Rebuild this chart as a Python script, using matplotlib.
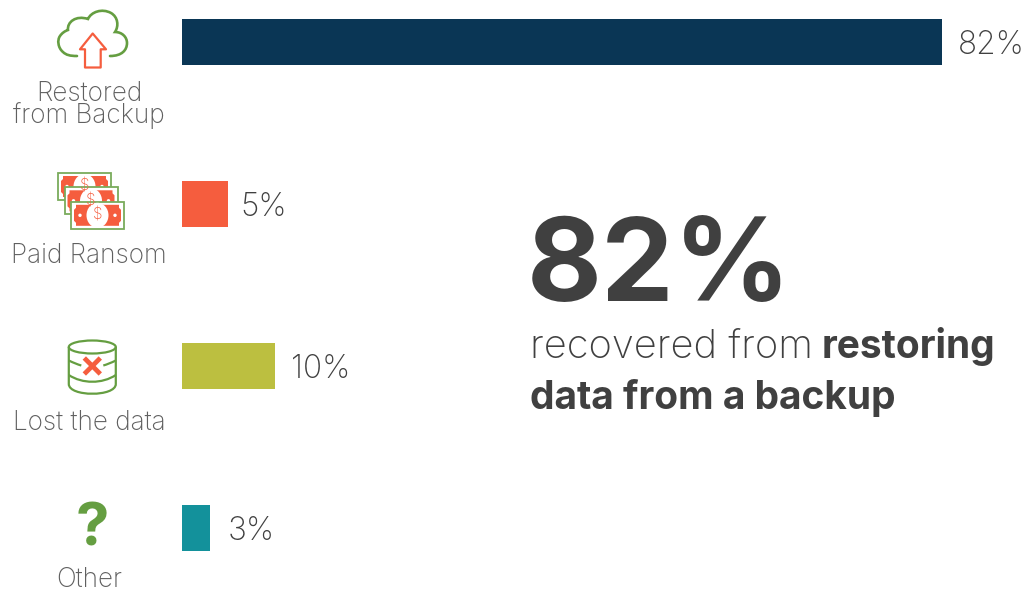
import matplotlib
matplotlib.use('Agg')
import matplotlib.pyplot as plt
from matplotlib.patches import Rectangle, Circle, Ellipse, Polygon, PathPatch
from matplotlib.path import Path

# survey results
categories = ['Restored\nfrom Backup', 'Paid Ransom', 'Lost the data', 'Other']
values = [82, 5, 10, 3]
value_labels = ['82%', '5%', '10%', '3%']
bar_colors = ['#0A3655', '#F55D3E', '#BCBF40', '#13919B']
headline = '82%'
caption_light = 'recovered from'
caption_bold_1 = 'restoring'
caption_bold_2 = 'data from a backup'

GREEN = '#659E41'
ORANGE = '#F55D3E'
DARK = '#404040'
GREY = '#606060'
FONT = 'Inter'

W, H = 1025, 593
fig = plt.figure(figsize=(W / 100, H / 100), dpi=100, facecolor='white')

# bars get their own axes, 82 units wide
ax = fig.add_axes([182 / W, 0, 760 / W, 1])
ax.set_xlim(0, 82)
ax.set_ylim((593 - 42) / 162, -42 / 162)
ax.barh(range(4), values, height=46 / 162, color=bar_colors)
ax.axis('off')
offsets = [16, 12, 16, 18]
for i, (v, lab) in enumerate(zip(values, value_labels)):
    ax.annotate(lab, (v, i), xytext=(offsets[i], -4), textcoords='offset pixels', va='center',
                fontsize=22.8, color=DARK, family=FONT, fontweight='light')

# everything else is laid out in pixels
px = fig.add_axes([0, 0, 1, 1], zorder=2)
px.set_xlim(0, W)
px.set_ylim(H, 0)
px.axis('off')
px.patch.set_alpha(0)

# category names, the two-line one stays a single text
label_y = [123, 263, 430, 587]
for cat, y in zip(categories, label_y):
    px.text(89, y, cat, ha='center', va='baseline', multialignment='center', linespacing=0.78,
            fontsize=18.8, color=GREY, family=FONT, fontweight='light')

# cloud icon
M, C, L = Path.MOVETO, Path.CURVE4, Path.LINETO
cloud = [(77, 56), (70, 56), (66, 55), (63, 52),
         (58, 48), (57, 40), (60, 36),
         (62, 33), (65, 31), (68, 30),
         (67, 22), (76, 15), (88, 19),
         (91, 12), (102, 8), (111, 13),
         (118, 17), (119, 26), (115, 32),
         (122, 32), (127, 37), (127, 43),
         (127, 50), (122, 56), (110, 56)]
codes = [M] + [C] * 24
px.add_patch(PathPatch(Path(cloud, codes), fill=False, ec=GREEN, lw=1.9, capstyle='round'))
arrow = [(92.7, 33.5), (106, 49.3), (100.7, 49.3), (100.7, 67.5), (85, 67.5), (85, 49.3), (80, 49.3)]
px.add_patch(Polygon(arrow, closed=True, fill=False, ec=ORANGE, lw=1.6, joinstyle='round'))


# banknote icon, one note per call
def note(x, y):
    px.add_patch(Rectangle((x, y), 53, 27, fc='white', ec='#7AAB5C', lw=1.3))
    inner = [(x + 5, y + 3), (x + 48, y + 3), (x + 48, y + 6), (x + 50, y + 8),
             (x + 50, y + 19), (x + 48, y + 21), (x + 48, y + 24), (x + 5, y + 24), (x + 5, y + 21), (x + 3, y + 19),
             (x + 3, y + 8), (x + 5, y + 6)]
    px.add_patch(Polygon(inner, closed=True, fc=ORANGE, ec='none'))
    px.add_patch(Ellipse((x + 26.5, y + 13.5), 22, 25, fc='white', ec='none'))
    px.add_patch(Circle((x + 9, y + 13.5), 1.7, fc='white', ec='none'))
    px.add_patch(Circle((x + 44, y + 13.5), 1.7, fc='white', ec='none'))
    px.text(x + 26.5, y + 13.5, r'\$', ha='center', va='center', fontsize=11, color=ORANGE,
            family=FONT, fontweight='light')


note(58, 173)
note(64.5, 187.3)
note(71, 201.8)

# database icon
cx, rx = 92.3, 23.5
px.add_patch(Ellipse((cx, 347), 2 * rx, 13, fill=False, ec=GREEN, lw=1.6))
body = [(cx - rx, 347), (cx - rx, 384), (cx - rx, 384), (cx - rx, 384),
        (cx - rx, 397), (cx + rx, 397), (cx + rx, 384),
        (cx + rx, 384), (cx + rx, 347), (cx + rx, 347)]
px.add_patch(PathPatch(Path(body, [M, C, C, C, C, C, C, C, C, C]), fill=False, ec=GREEN, lw=1.6))
for xs in [(cx - rx, cx - rx + 7, cx - 11), (cx + rx, cx + rx - 7, cx + 11)]:
    ys = (360.5, 364, 365.5)
    px.add_patch(PathPatch(Path(list(zip(xs, ys)), [M, Path.CURVE3, Path.CURVE3]), fill=False, ec=GREEN, lw=1.6))
low = [(cx - rx, 375), (cx - 10, 384), (cx + 10, 384), (cx + rx, 375)]
px.add_patch(PathPatch(Path(low, [M, C, C, C]), fill=False, ec=GREEN, lw=1.6))
d = 8
px.plot([cx - d, cx + d], [366 - d, 366 + d], color=ORANGE, lw=3.4, solid_capstyle='butt')
px.plot([cx - d, cx + d], [366 + d, 366 - d], color=ORANGE, lw=3.4, solid_capstyle='butt')

# question mark icon
px.text(92, 545, '?', ha='center', va='baseline', fontsize=43, color=GREEN, family=FONT, fontweight='bold')

# headline block
px.text(527, 301, headline, ha='left', va='baseline', fontsize=83, color=DARK, family=FONT, fontweight='bold')
px.text(530, 358, caption_light, ha='left', va='baseline', fontsize=28.7, color=DARK, family=FONT, fontweight='light')
px.text(995, 358, caption_bold_1, ha='right', va='baseline', fontsize=28, color=DARK, family=FONT, fontweight='bold')
px.text(530, 409, caption_bold_2, ha='left', va='baseline', fontsize=28, color=DARK, family=FONT, fontweight='bold')

fig.savefig('out.png', dpi=100)
